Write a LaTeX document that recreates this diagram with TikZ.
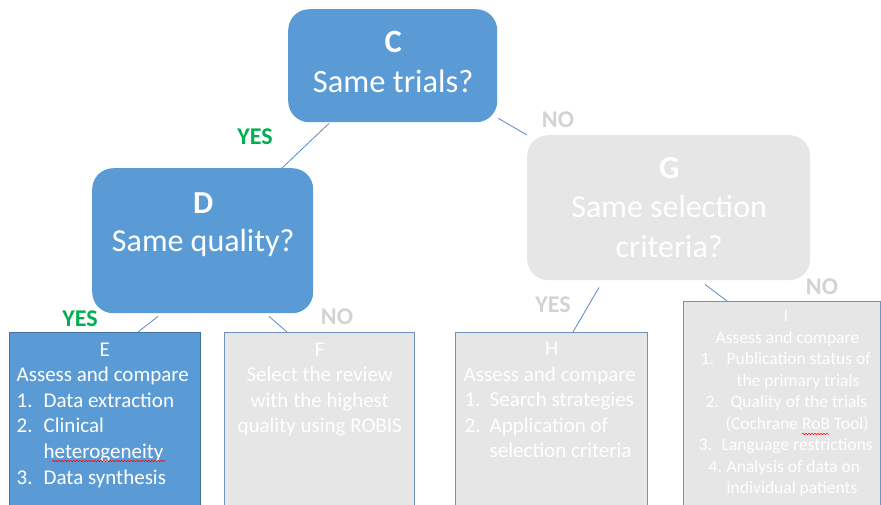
\documentclass[tikz,border=0pt]{standalone}
\usepackage{fontspec}
\setmainfont{Carlito}
\usetikzlibrary{decorations.pathmorphing}

\definecolor{nodeblue}{HTML}{5B9BD5}
\definecolor{edgeblue}{HTML}{41719C}
\definecolor{paleGray}{HTML}{E6E6E6}
\definecolor{frameblue}{HTML}{6F93C0}
\definecolor{labelgray}{HTML}{D3D3D3}
\definecolor{yesgreen}{HTML}{00B050}
\definecolor{linkblue}{HTML}{5A8AC6}

% one line of a text stack, placed at a horizontal offset from the box edge
\newcommand\rowat[2]{\hbox to 0pt{\hspace*{#1}#2\hss}}
% one line centred on a horizontal offset
\newcommand\rowmid[2]{\hbox to 0pt{\hspace*{#1}\hbox to 0pt{\hss#2\hss}\hss}}
% numbered line: number at offset #1, text a further #3 to the right
\newcommand\rownum[4]{\hbox to 0pt{\hspace*{#1}\rlap{#2}\hspace*{#3}#4\hss}}
% stack of lines with given size and line pitch; base = first baseline
\newcommand\stack[3]{\vtop{\fontsize{#1}{#2}\selectfont #3}}

\tikzset{
  decision/.style={fill=nodeblue, draw=none, rounded corners=21pt, anchor=north west, inner sep=0pt},
  greydecision/.style={fill=paleGray, draw=none, rounded corners=21pt, anchor=north west, inner sep=0pt},
  actionblue/.style={fill=nodeblue, draw=edgeblue, line width=1pt, anchor=north west, inner sep=0pt},
  actiongrey/.style={fill=paleGray, draw=frameblue, line width=0.8pt, anchor=north west, inner sep=0pt},
  txt/.style={anchor=base west, inner sep=0pt, text=white},
  link/.style={draw=linkblue, line width=0.8pt},
  yeslabel/.style={text=yesgreen, font=\fontsize{24}{28}\selectfont\bfseries, inner sep=0pt},
  nolabel/.style={text=labelgray, font=\fontsize{24}{28}\selectfont\bfseries, inner sep=0pt},
  spell/.style={draw=red, line width=0.5pt, decorate,
    decoration={snake, segment length=3pt, amplitude=0.7pt}},
}

\begin{document}
\begin{tikzpicture}[x=1pt, y=-1pt]
  \clip (0,0) rectangle (881,504);
  \fill[white] (0,0) rectangle (881,504);

  % decision boxes
  \node[decision, minimum width=209pt, minimum height=113pt] (C) at (288,9) {};
  \node[decision, minimum width=221pt, minimum height=145pt] (D) at (92,168) {};
  \node[greydecision, minimum width=283pt, minimum height=145pt] (G) at (527,135) {};

  % outcome boxes (running off the bottom edge)
  \node[actionblue, minimum width=191pt, minimum height=190pt] (E) at (9,332) {};
  \node[actiongrey, minimum width=190pt, minimum height=190pt] (F) at (224,332) {};
  \node[actiongrey, minimum width=192pt, minimum height=190pt] (H) at (455,332) {};
  \node[actiongrey, minimum width=197pt, minimum height=220pt] (I) at (683,301) {};

  % texts of the decision boxes
  \node[txt] (Ct) at (288,52) {\stack{32.5}{40}{%
    \rowmid{104.5pt}{\bfseries C}%
    \rowmid{104.5pt}{Same trials?}}};
  \node[txt] (Dt) at (92,213) {\stack{32}{38}{%
    \rowmid{110.5pt}{\bfseries D}%
    \rowmid{110.5pt}{Same quality?}}};
  \node[txt] (Gt) at (527,178) {\stack{32}{39.5}{%
    \rowmid{141.5pt}{\bfseries G}%
    \rowmid{141.5pt}{Same selection}%
    \rowmid{141.5pt}{criteria?}}};

  % texts of the outcome boxes
  \node[txt] (Et) at (9,356) {\stack{21}{25.6}{%
    \rowmid{95pt}{E}%
    \rowat{7pt}{Assess and compare}%
    \rownum{7pt}{1.}{27pt}{Data extraction}%
    \rownum{7pt}{2.}{27pt}{Clinical}%
    \rowat{34pt}{heterogeneity}%
    \rownum{7pt}{3.}{27pt}{Data synthesis}}};
  \node[txt] (Ft) at (224,356) {\stack{21}{25.6}{%
    \rowmid{95pt}{F}%
    \rowmid{95pt}{Select the review}%
    \rowmid{95pt}{with the highest}%
    \rowmid{95pt}{quality using ROBIS}}};
  \node[txt] (Ht) at (455,355.5) {\stack{21}{25.6}{%
    \rowmid{96pt}{H}%
    \rowat{8pt}{Assess and compare}%
    \rownum{9pt}{1.}{25pt}{Search strategies}%
    \rownum{9pt}{2.}{25pt}{Application of}%
    \rowat{34pt}{selection criteria}}};
  \node[txt] (It) at (683,321.8) {\stack{17.5}{21.5}{%
    \rowmid{102pt}{I}%
    \rowat{32pt}{Assess and compare}%
    \rownum{17pt}{1.}{26pt}{Publication status of}%
    \rowat{53pt}{the primary trials}%
    \rownum{22pt}{2.}{25pt}{Quality of the trials}%
    \rowat{42pt}{(Cochrane RoB Tool)}%
    \rownum{15pt}{3.}{23pt}{Language restrictions}%
    \rownum{25pt}{4.}{18pt}{Analysis of data on}%
    \rowat{43pt}{individual patients}}};

  % spell-check marks
  \draw[spell] (52,461) -- (165,461);
  \draw[spell] (802,434) -- (829,434);

  % connectors
  \draw[link] ([xshift=41pt,yshift=-1pt]C.south west) -- ([xshift=190pt]D.north west);
  \draw[link] ([xshift=1pt,yshift=4pt]C.south east) -- (G.north west);
  \draw[link] ([xshift=66pt,yshift=-3pt]D.south west) -- ([xshift=129pt]E.north west);
  \draw[link] ([xshift=177pt,yshift=-3pt]D.south west) -- ([xshift=63pt]F.north west);
  \draw[link] ([xshift=72pt,yshift=-7pt]G.south west) -- ([xshift=118pt]H.north west);
  \draw[link] ([xshift=178pt,yshift=-4pt]G.south west) -- ([xshift=44pt]I.north west);

  % branch labels
  \node[yeslabel] (yesCD) at (255,137) {YES};
  \node[nolabel] (noCG) at (558,120) {NO};
  \node[yeslabel] (yesDE) at (80,319) {YES};
  \node[nolabel] (noDF) at (337,317) {NO};
  \node[nolabel] (yesGH) at (553,305) {YES};
  \node[nolabel] (noGI) at (822,287) {NO};
\end{tikzpicture}
\end{document}
